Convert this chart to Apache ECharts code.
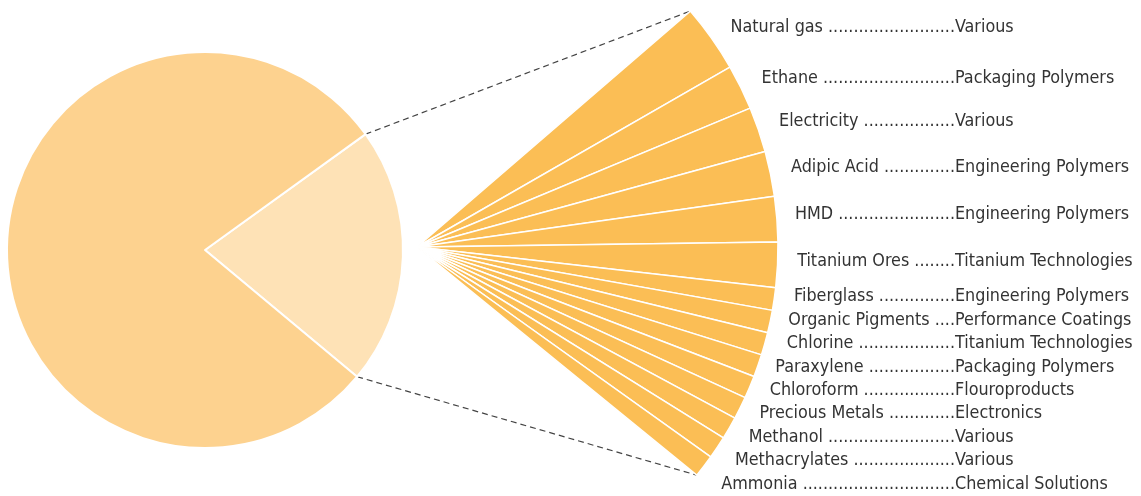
<!DOCTYPE html>
<html>
<head>
<meta charset="utf-8">
<script src="https://cdn.jsdelivr.net/npm/echarts@6/dist/echarts.min.js"></script>
<style>
  html, body { margin: 0; padding: 0; background: #fff; }
  #chart { width: 1141px; height: 496px; }
</style>
</head>
<body>
<div id="chart"></div>
<script>
// left pie: share of the breakout slice vs the rest
const splitNames = ['Key raw materials', 'Other'];
const splitValues = [21, 79];

// right fan: raw material, where it goes, relative share
const materials = ['Natural gas', 'Ethane', 'Electricity', 'Adipic Acid', 'HMD', 'Titanium Ores',
  'Fiberglass', 'Organic Pigments', 'Chlorine', 'Paraxylene', 'Chloroform', 'Precious Metals',
  'Methanol', 'Methacrylates', 'Ammonia'];
const segments = ['Various', 'Packaging Polymers', 'Various', 'Engineering Polymers', 'Engineering Polymers',
  'Titanium Technologies', 'Engineering Polymers', 'Performance Coatings', 'Titanium Technologies',
  'Packaging Polymers', 'Flouroproducts', 'Electronics', 'Various', 'Various', 'Chemical Solutions'];
const shares = [3, 2, 2, 2, 2, 2, 1, 1, 1, 1, 1, 1, 1, 1, 1];

const W = 1141;
const FONT_FAMILY = '"DejaVu Sans Condensed", "Liberation Sans Narrow", sans-serif';
const FONT_SIZE = 17.8;
const bigC = [205, 250], bigR = 198, bigStart = 35.8;
const fanC = [417, 247], fanR = 361, fanStart = 40.8, fanSpan = 80;
const labelLen = 12, labelGap = 5, colX = 955, colW = 184;

var ctx = document.createElement('canvas').getContext('2d');
ctx.font = FONT_SIZE + 'px ' + FONT_FAMILY;
function tw(s) { return ctx.measureText(s).width; }

const fanTotal = shares.reduce((a, b) => a + b, 0);
const bigTotal = splitValues.reduce((a, b) => a + b, 0);

// dot leaders so the name starts near the arc and the segment column lines up
let acc = 0;
const leaders = materials.map(function (m, i) {
  const mid = (fanStart - fanSpan * (acc + shares[i] / 2) / fanTotal) * Math.PI / 180;
  acc += shares[i];
  const startX = fanC[0] + (fanR + labelLen) * Math.cos(mid) + labelGap;
  const room = colX - 1 - startX - tw(m + ' ');
  return m + ' ' + '.'.repeat(Math.max(2, Math.floor(room / tw('.'))));
});

const fanData = materials.map(function (m, i) {
  return { name: m, value: shares[i], seg: segments[i], lead: leaders[i] };
});
fanData.push({
  name: '', value: fanTotal * (360 / fanSpan - 1),
  itemStyle: { color: 'rgba(0,0,0,0)', borderWidth: 0 },
  label: { show: false }, emphasis: { disabled: true }, silent: true
});

function pt(c, r, deg) {
  const a = deg * Math.PI / 180;
  return [c[0] + r * Math.cos(a), c[1] - r * Math.sin(a)];
}
const bigEnd = bigStart - 360 * splitValues[0] / bigTotal;
const a1 = pt(bigC, bigR, bigStart), b1 = pt(fanC, fanR, fanStart);
const a2 = pt(bigC, bigR, bigEnd), b2 = pt(fanC, fanR, fanStart - fanSpan);
const dash = { stroke: '#444', lineWidth: 1.2, lineDash: [6, 4] };

var myChart = echarts.init(document.getElementById('chart'));
var option = {
  animation: false,
  backgroundColor: '#fff',
  graphic: [
    { type: 'line', shape: { x1: a1[0], y1: a1[1], x2: b1[0], y2: b1[1] }, style: dash, silent: true },
    { type: 'line', shape: { x1: a2[0], y1: a2[1], x2: b2[0], y2: b2[1] }, style: dash, silent: true }
  ],
  series: [
    {
      type: 'pie',
      center: bigC,
      radius: [0, bigR],
      startAngle: bigStart,
      label: { show: false },
      labelLine: { show: false },
      itemStyle: { borderColor: '#fff', borderWidth: 2 },
      data: splitNames.map(function (n, i) {
        return { name: n, value: splitValues[i], itemStyle: { color: i === 0 ? '#fee2b6' : '#fdd28f' } };
      })
    },
    {
      type: 'pie',
      left: 0, top: 0, width: W, height: 512,
      center: fanC,
      radius: [0, fanR],
      startAngle: fanStart,
      avoidLabelOverlap: true,
      itemStyle: { color: '#fbbe55', borderColor: '#fff', borderWidth: 1.5 },
      labelLine: { show: false, length: labelLen, length2: 0 },
      labelLayout: { dy: -4 },
      label: {
        show: true,
        position: 'outside',
        alignTo: 'edge',
        edgeDistance: W - colX - colW,
        distanceToLabelLine: labelGap,
        color: '#333',
        fontFamily: FONT_FAMILY,
        fontSize: FONT_SIZE,
        lineHeight: 21.4,
        formatter: function (p) {
          return '{n|' + p.data.lead + '}{c|' + p.data.seg + '}';
        },
        rich: {
          n: { fontFamily: FONT_FAMILY, fontSize: FONT_SIZE, color: '#333', lineHeight: 21.4, align: 'left' },
          c: { fontFamily: FONT_FAMILY, fontSize: FONT_SIZE, color: '#333', lineHeight: 21.4, width: colW, align: 'left' }
        }
      },
      data: fanData
    }
  ]
};
option && myChart.setOption(option);
</script>
</body>
</html>
